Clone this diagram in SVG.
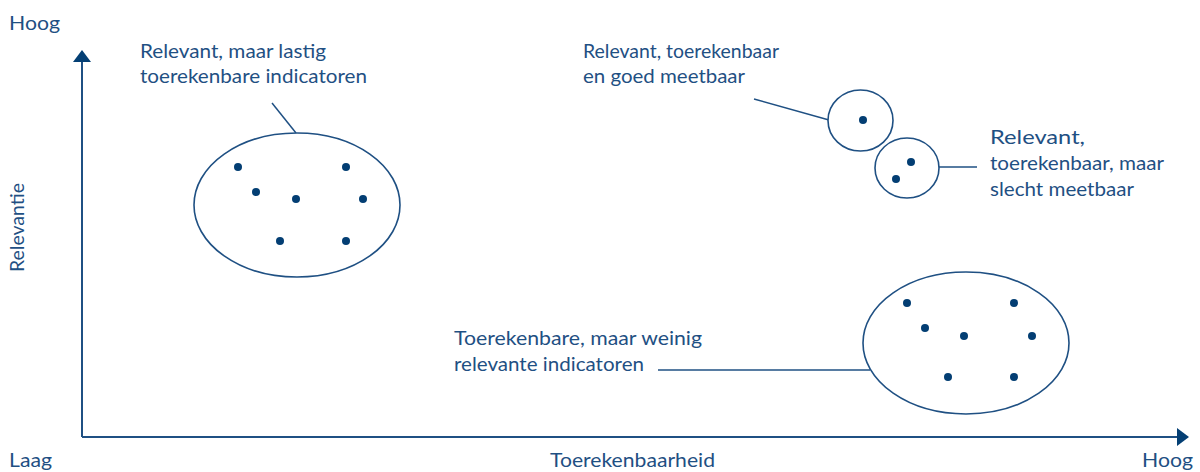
<svg xmlns="http://www.w3.org/2000/svg" width="1200" height="472" viewBox="0 0 1200 472">
<style>
  text { font-family: Lato, "Open Sans", sans-serif; font-size: 20px; fill: #1f5083; }
  .ax { stroke: #1f5083; stroke-width: 2; fill: none; }
  .ln { stroke: #1f5083; stroke-width: 1.5; fill: none; }
  .el { stroke: #1f5083; stroke-width: 1.6; fill: #fff; }
  .dot { fill: #033e73; }
  .head { fill: #043f74; }
</style>
<rect width="1200" height="472" fill="#fff"/>
<g id="axes">
  <path class="ax" d="M82,437 L82,62"/>
  <path class="head" d="M73,62 L82,50 L91,62 Z"/>
  <path class="ax" d="M82,437 L1177,437"/>
  <path class="head" d="M1177,428 L1189,437 L1177,446 Z"/>
  <text x="9" y="30" textLength="51" lengthAdjust="spacingAndGlyphs">Hoog</text>
  <text x="9" y="467" textLength="43" lengthAdjust="spacingAndGlyphs">Laag</text>
  <text x="550" y="467" textLength="165" lengthAdjust="spacingAndGlyphs">Toerekenbaarheid</text>
  <text x="1142" y="467" textLength="51" lengthAdjust="spacingAndGlyphs">Hoog</text>
  <text transform="translate(24,272) rotate(-90)" textLength="89" lengthAdjust="spacingAndGlyphs">Relevantie</text>
</g>
<g id="connectors">
  <path class="ln" d="M272,103 L296,133"/>
  <path class="ln" d="M754,99 L829,120"/>
  <path class="ln" d="M939,167 L977,167"/>
  <path class="ln" d="M658,370 L870,370"/>
</g>
<g id="cluster-top-left">
  <ellipse class="el" cx="297" cy="205" rx="103" ry="72"/>
  <circle class="dot" cx="238" cy="167" r="4"/>
  <circle class="dot" cx="256" cy="192" r="4"/>
  <circle class="dot" cx="296" cy="199" r="4"/>
  <circle class="dot" cx="346" cy="167" r="4"/>
  <circle class="dot" cx="363" cy="199" r="4"/>
  <circle class="dot" cx="280" cy="241" r="4"/>
  <circle class="dot" cx="346" cy="241" r="4"/>
  <text x="140" y="58" textLength="186" lengthAdjust="spacingAndGlyphs">Relevant, maar lastig</text>
  <text x="140" y="83" textLength="227" lengthAdjust="spacingAndGlyphs">toerekenbare indicatoren</text>
</g>
<g id="cluster-good">
  <ellipse class="el" cx="860.5" cy="120.5" rx="32.5" ry="30.5"/>
  <circle class="dot" cx="863" cy="120" r="4"/>
  <text x="583" y="58" textLength="196" lengthAdjust="spacingAndGlyphs">Relevant, toerekenbaar</text>
  <text x="583" y="83" textLength="162" lengthAdjust="spacingAndGlyphs">en goed meetbaar</text>
</g>
<g id="cluster-bad">
  <ellipse class="el" cx="907" cy="168" rx="32" ry="30"/>
  <circle class="dot" cx="911" cy="162" r="4"/>
  <circle class="dot" cx="896" cy="179" r="4"/>
  <text x="990" y="144" textLength="95" lengthAdjust="spacingAndGlyphs">Relevant,</text>
  <text x="990" y="170" textLength="174" lengthAdjust="spacingAndGlyphs">toerekenbaar, maar</text>
  <text x="990" y="196" textLength="144" lengthAdjust="spacingAndGlyphs">slecht meetbaar</text>
</g>
<g id="cluster-bottom-right">
  <ellipse class="el" cx="966" cy="343" rx="103" ry="71"/>
  <circle class="dot" cx="907" cy="303" r="4"/>
  <circle class="dot" cx="925" cy="328" r="4"/>
  <circle class="dot" cx="964" cy="336" r="4"/>
  <circle class="dot" cx="1014" cy="303" r="4"/>
  <circle class="dot" cx="1032" cy="336" r="4"/>
  <circle class="dot" cx="948" cy="377" r="4"/>
  <circle class="dot" cx="1014" cy="377" r="4"/>
  <text x="454" y="345" textLength="248" lengthAdjust="spacingAndGlyphs">Toerekenbare, maar weinig</text>
  <text x="454" y="371" textLength="190" lengthAdjust="spacingAndGlyphs">relevante indicatoren</text>
</g>
</svg>
